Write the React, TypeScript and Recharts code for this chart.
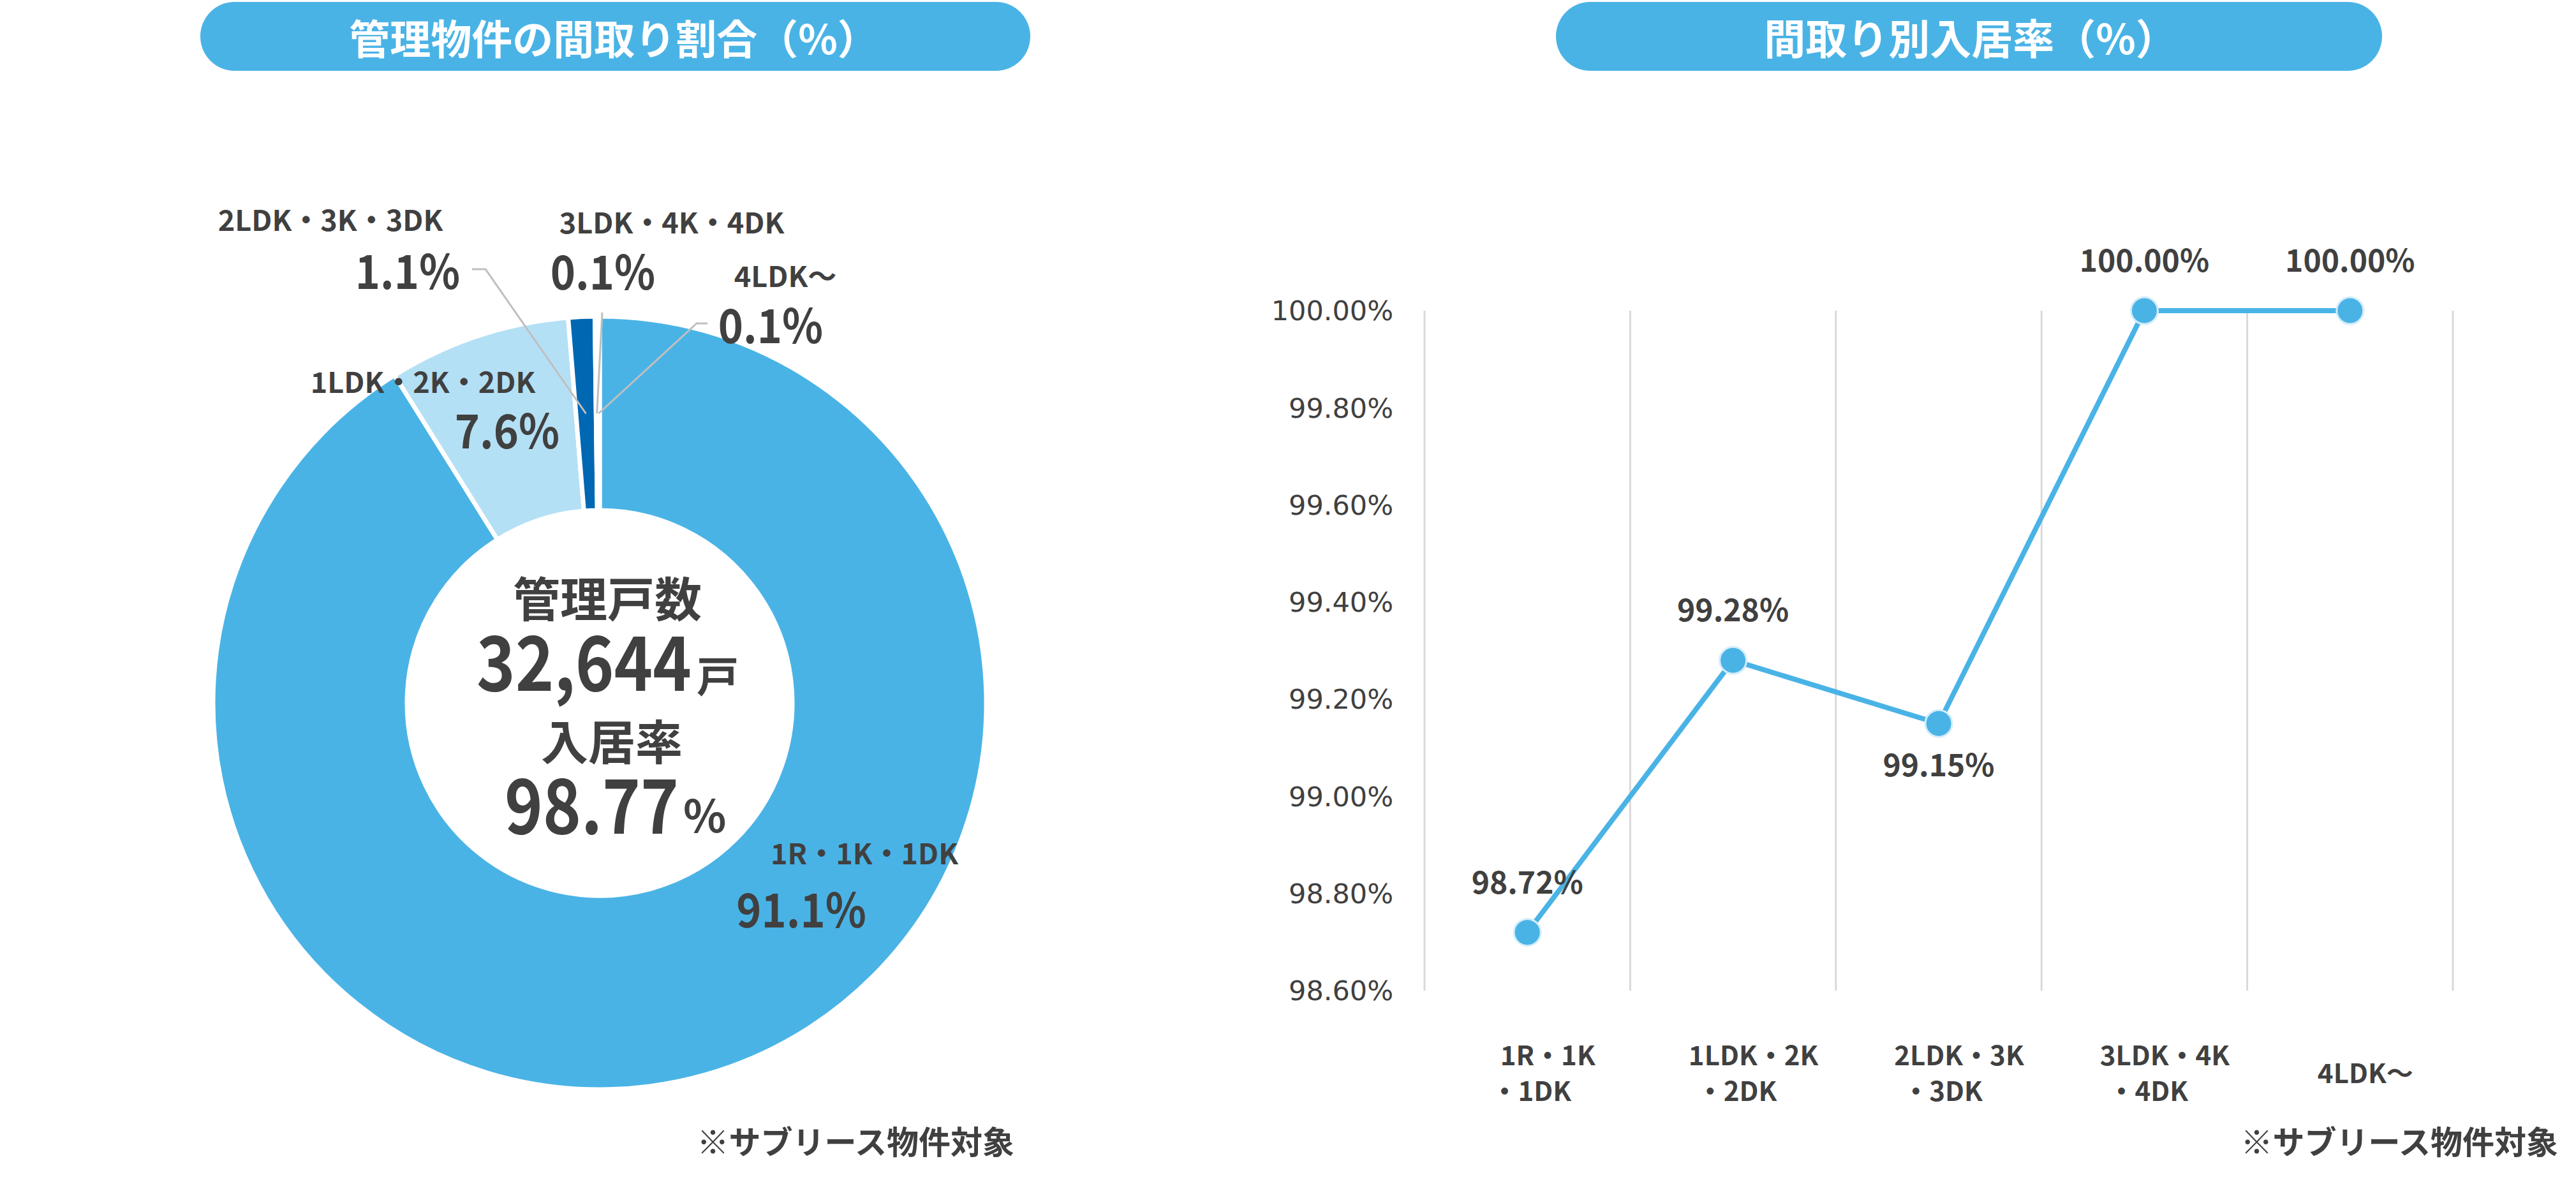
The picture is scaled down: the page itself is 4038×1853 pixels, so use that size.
import React from 'react';
import { PieChart, Pie, Cell, LineChart, Line, XAxis, YAxis, CartesianGrid, LabelList } from 'recharts';

const W = 4038;
const H = 1853;
const FONT = "'Noto Sans CJK JP', 'Noto Sans', sans-serif";
const TEXT = '#404040';
const BLUE = '#4AB3E6';

// 管理物件の間取り割合（%）
const roomTypes = ['1R・1K・1DK', '1LDK・2K・2DK', '2LDK・3K・3DK', '3LDK・4K・4DK', '4LDK〜'];
const shareValues = [91.1, 7.6, 1.1, 0.1, 0.1];
const shareColors = ['#4AB3E6', '#B4E0F5', '#0067B3', '#9DD3EF', '#9DD3EF'];

// 間取り別入居率（%）
const rateCategories = ['1R・1K・1DK', '1LDK・2K・2DK', '2LDK・3K・3DK', '3LDK・4K・4DK', '4LDK〜'];
const rateValues = [98.72, 99.28, 99.15, 100.0, 100.0];
const rateTicks = [98.6, 98.8, 99.0, 99.2, 99.4, 99.6, 99.8, 100.0];
const rateLabelSide = ['top', 'top', 'bottom', 'top', 'top'];

const totalUnits = '32,644';
const totalRate = '98.77';

const shareData = roomTypes.map((name, i) => ({ name, value: shareValues[i] }));
const rateData = rateCategories.map((name, i) => ({ name, rate: rateValues[i] }));

// label placement, offsets from the pie centre
const pieLabelLayout: { name: number[]; value: number[]; leader?: number[][] }[] = [
  { name: [415, 233], value: [316, 319] },
  { name: [-277, -506], value: [-145, -432] },
  { name: [-422, -760], value: [-301, -682], leader: [[-200, -680], [-179, -680]] },
  { name: [113, -756], value: [5, -681], leader: [[4, -612]] },
  { name: [291, -672], value: [268, -597], leader: [[169, -595], [152, -595]] },
];

const renderPieLabel = (props: any) => {
  const { cx, cy, midAngle, innerRadius, outerRadius, index, name, value } = props;
  const lay = pieLabelLayout[index];
  if (!lay) return null;
  const RAD = Math.PI / 180;
  const r = (innerRadius + outerRadius) / 2;
  const ax = cx + r * Math.cos(-midAngle * RAD);
  const ay = cy + r * Math.sin(-midAngle * RAD);
  let leader = null;
  if (lay.leader) {
    const pts = lay.leader.map((p) => `${cx + p[0]},${cy + p[1]}`).concat(`${ax},${ay}`);
    leader = <polyline points={pts.join(' ')} fill="none" stroke="#BFBFBF" strokeWidth={3} />;
  }
  return (
    <g>
      {leader}
      <text x={cx + lay.name[0]} y={cy + lay.name[1]} textAnchor="middle" dominantBaseline="central"
        fontFamily={FONT} fontSize={45} fontWeight={700} fill={TEXT}>{name}</text>
      {/* narrow numerals like the original */}
      <text transform={`translate(${cx + lay.value[0]},${cy + lay.value[1]}) scale(0.9,1)`}
        textAnchor="middle" dominantBaseline="central"
        fontFamily={FONT} fontSize={74} fontWeight={700} fill={TEXT}>{value.toFixed(1)}%</text>
    </g>
  );
};

const renderRateLabel = (props: any) => {
  const { x, y, value, index } = props;
  const below = rateLabelSide[index] === 'bottom';
  return (
    <text x={x} y={below ? y + 62 : y - 82} textAnchor="middle" dominantBaseline="central"
      fontFamily={FONT} fontSize={48} fontWeight={700} fill={TEXT}>
      {Number(value).toFixed(2)}%
    </text>
  );
};

const RateTick = (props: any) => {
  const { x, y, payload } = props;
  const label: string = payload.value;
  const cut = label.lastIndexOf('・');
  const style = { fontFamily: FONT, fontSize: 42, fontWeight: 700, fill: TEXT };
  if (cut <= 0) {
    return <text x={x + 24} y={y + 118} textAnchor="middle" dominantBaseline="central" style={style}>{label}</text>;
  }
  return (
    <g>
      <text x={x + 32} y={y + 90} textAnchor="middle" dominantBaseline="central" style={style}>{label.slice(0, cut)}</text>
      <text x={x + 6} y={y + 146} textAnchor="middle" dominantBaseline="central" style={style}>{label.slice(cut)}</text>
    </g>
  );
};

const Donut = () => (
  <PieChart width={1800} height={H}>
    <Pie data={shareData} dataKey="value" nameKey="name" cx={935} cy={1097}
      innerRadius={302} outerRadius={606} startAngle={90} endAngle={-270}
      stroke="#fff" strokeWidth={7} label={renderPieLabel} labelLine={false} isAnimationActive={false}>
      {shareData.map((d, i) => <Cell key={d.name} fill={shareColors[i]} />)}
    </Pie>
  </PieChart>
);

const RateChart = () => (
  <LineChart width={2238} height={H} data={rateData} margin={{ top: 487, right: 193, bottom: 100, left: 0 }}>
    <CartesianGrid horizontal={false} stroke="#D9D9D9" strokeWidth={3}
      verticalCoordinatesGenerator={({ offset }: any) => {
        const left = offset?.left ?? 433;
        const width = offset?.width ?? 1612;
        return rateData.map((_, i) => left + (i * width) / rateData.length).concat(left + width);
      }} />
    <XAxis dataKey="name" scale="band" height={200} axisLine={false} tickLine={false} interval={0} tick={<RateTick />} />
    <YAxis domain={[98.6, 100]} ticks={rateTicks} width={433} axisLine={false} tickLine={false}
      tickSize={0} tickMargin={49} tickFormatter={(v: number) => v.toFixed(2) + '%'}
      tick={{ fontFamily: 'DejaVu Sans', fontSize: 43, fill: TEXT }} />
    <Line dataKey="rate" stroke={BLUE} strokeWidth={8}
      dot={{ r: 21, fill: BLUE, stroke: '#D3EDFA', strokeWidth: 3 }} activeDot={false} isAnimationActive={false}>
      <LabelList dataKey="rate" content={renderRateLabel} />
    </Line>
  </LineChart>
);

export default function App() {
  const big = { fontFamily: FONT, fontWeight: 700, fill: TEXT } as const;
  return (
    <div style={{ position: 'absolute', left: 0, top: 0, width: W, height: H, background: '#fff', overflow: 'hidden' }}>
      <div style={{ position: 'absolute', left: 0, top: 0 }}><Donut /></div>
      <div style={{ position: 'absolute', left: 1800, top: 0 }}><RateChart /></div>
      <svg width={W} height={H} style={{ position: 'absolute', left: 0, top: 0, pointerEvents: 'none' }}>
        <rect x={314} y={3} width={1301} height={108} rx={54} fill={BLUE} />
        <text x={962} y={57} textAnchor="middle" dominantBaseline="central" fontFamily={FONT} fontSize={64} fontWeight={700} fill="#fff">管理物件の間取り割合（%）</text>
        <rect x={2439} y={3} width={1295} height={108} rx={54} fill={BLUE} />
        <text x={3089} y={57} textAnchor="middle" dominantBaseline="central" fontFamily={FONT} fontSize={65} fontWeight={700} fill="#fff">間取り別入居率（%）</text>

        <text x={952} y={934} textAnchor="middle" dominantBaseline="central" fontFamily={FONT} fontSize={74} fontWeight={700} fill={TEXT}>管理戸数</text>
        <text x={747} y={1083} textLength={337} lengthAdjust="spacingAndGlyphs" fontSize={118} {...big}>{totalUnits}</text>
        <text x={1092} y={1085} fontSize={66} {...big}>戸</text>
        <text x={959} y={1158} textAnchor="middle" dominantBaseline="central" fontFamily={FONT} fontSize={74} fontWeight={700} fill={TEXT}>入居率</text>
        <text x={791} y={1307} textLength={273} lengthAdjust="spacingAndGlyphs" fontSize={118} {...big}>{totalRate}</text>
        <text x={1071} y={1305} fontSize={70} {...big}>%</text>

        <text x={1590} y={1787} textAnchor="end" dominantBaseline="central" fontFamily={FONT} fontSize={50} fontWeight={700} fill={TEXT}>※サブリース物件対象</text>
        <text x={4010} y={1787} textAnchor="end" dominantBaseline="central" fontFamily={FONT} fontSize={50} fontWeight={700} fill={TEXT}>※サブリース物件対象</text>
      </svg>
    </div>
  );
}
